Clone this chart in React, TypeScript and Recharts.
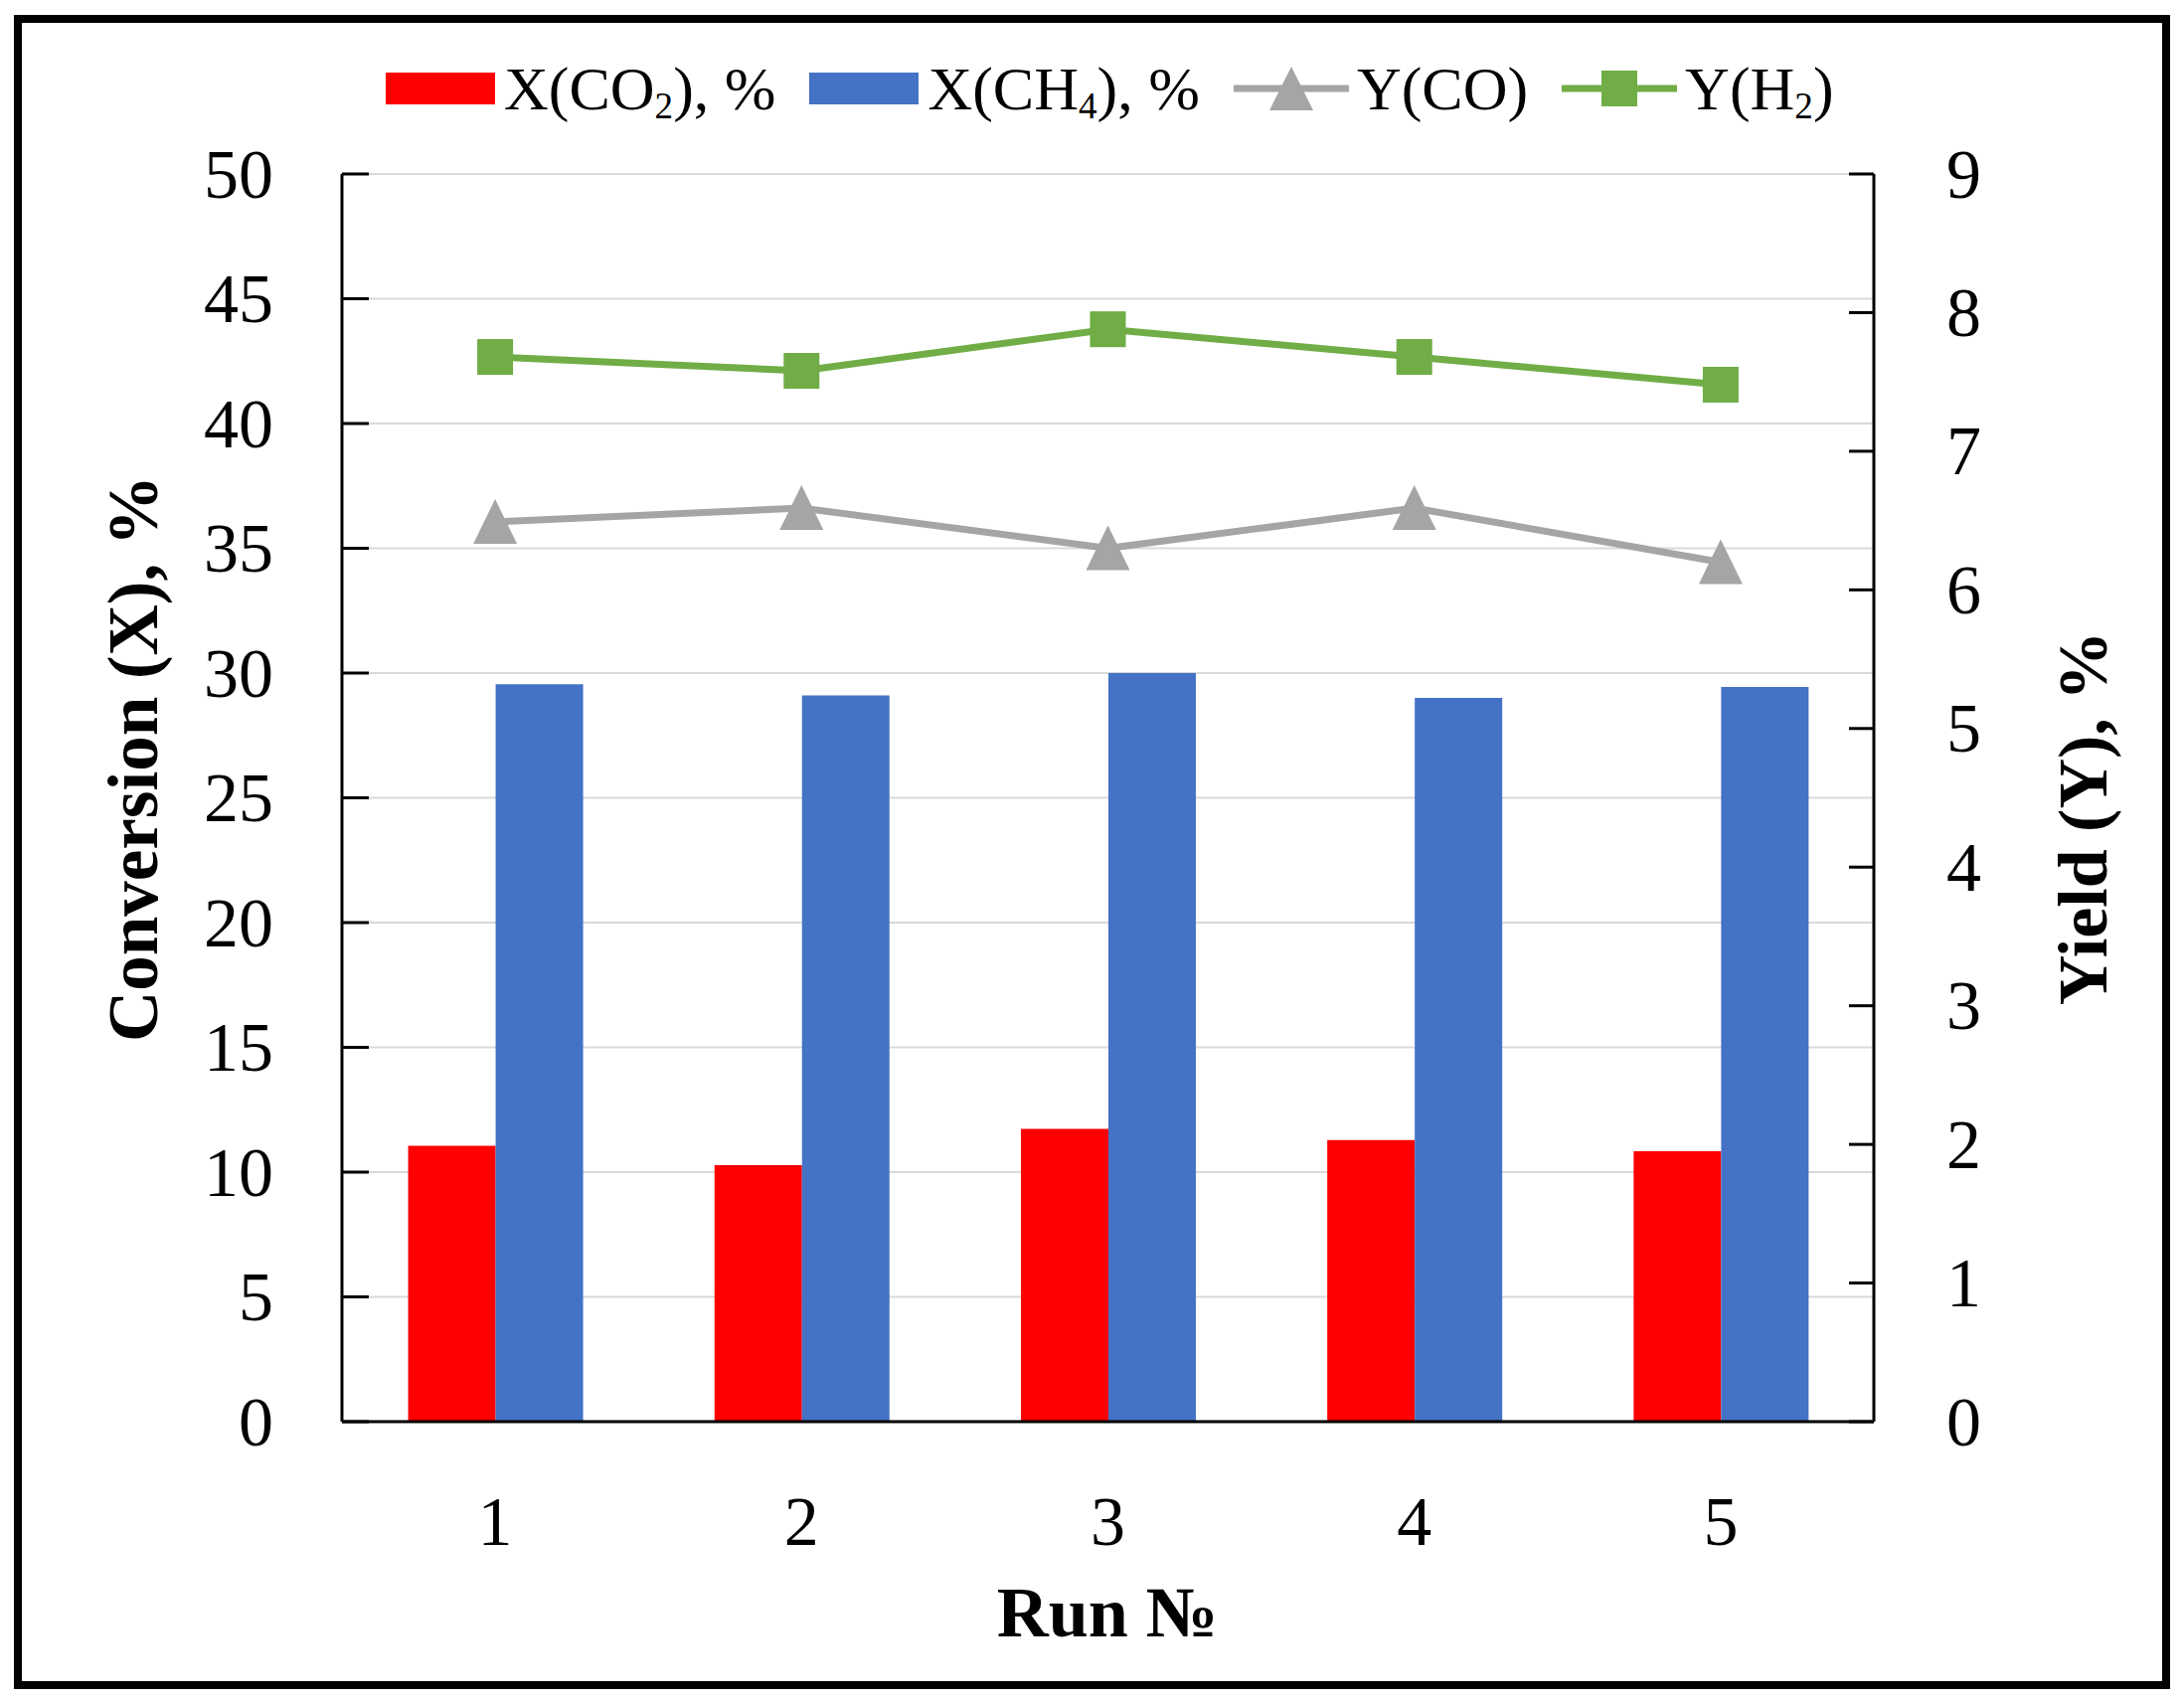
import { ComposedChart, Bar, Line, XAxis, YAxis, CartesianGrid, Label } from "recharts";

const runs = ["1", "2", "3", "4", "5"];
const xCO2 = [11.06, 10.28, 11.73, 11.28, 10.84];
const xCH4 = [29.55, 29.1, 30.0, 29.0, 29.44];
const yCO = [6.49, 6.59, 6.3, 6.59, 6.2];
const yH2 = [7.68, 7.58, 7.88, 7.68, 7.48];
const leftTicks = [0, 5, 10, 15, 20, 25, 30, 35, 40, 45, 50];
const rightTicks = [0, 1, 2, 3, 4, 5, 6, 7, 8, 9];

const data = runs.map((run, i) => ({
  run,
  xCO2: xCO2[i],
  xCH4: xCH4[i],
  yCO: yCO[i],
  yH2: yH2[i],
}));

const FONT = "'Liberation Serif', 'Times New Roman', serif";
const RED = "#FF0000";
const BLUE = "#4472C4";
const GRAY = "#A5A5A5";
const GREEN = "#70AD47";

const LeftTick = ({ x, y, payload }: any) => (
  <g>
    <line x1={x + 69} x2={x + 96} y1={y} y2={y} stroke="#000" strokeWidth={3} />
    <text x={x} y={y} textAnchor="end" dominantBaseline="central" fontFamily={FONT} fontSize={70} fill="#000">
      {payload.value}
    </text>
  </g>
);

const RightTick = ({ x, y, payload }: any) => (
  <g>
    <line x1={x - 73} x2={x - 98} y1={y} y2={y} stroke="#000" strokeWidth={3} />
    <text x={x} y={y} textAnchor="start" dominantBaseline="central" fontFamily={FONT} fontSize={70} fill="#000">
      {payload.value}
    </text>
  </g>
);

const BottomTick = ({ x, y, payload }: any) => (
  <text x={x} y={y + 100} textAnchor="middle" dominantBaseline="central" fontFamily={FONT} fontSize={70} fill="#000">
    {payload.value}
  </text>
);

const Triangle = (props: any) => {
  const { cx, cy, index } = props;
  return (
    <path
      key={`tri-${index}`}
      d={`M${cx},${cy - 23} L${cx + 22},${cy + 22} L${cx - 22},${cy + 22} Z`}
      fill={GRAY}
    />
  );
};

const Square = (props: any) => {
  const { cx, cy, index } = props;
  return <rect key={`sq-${index}`} x={cx - 18} y={cy - 18} width={36} height={36} fill={GREEN} />;
};

const legendText: React.CSSProperties = { fontFamily: FONT, fontSize: 62, color: "#000", whiteSpace: "nowrap" };
const subStyle: React.CSSProperties = { fontSize: "60%", verticalAlign: "-0.25em", lineHeight: 0, color: "#000" };

const LineIcon = ({ color, marker }: { color: string; marker: "tri" | "sq" }) => (
  <svg width={116} height={46} style={{ marginRight: 8 }}>
    <line x1={0} x2={116} y1={23} y2={23} stroke={color} strokeWidth={7} />
    {marker === "tri" ? (
      <path d="M58,1 L80,45 L36,45 Z" fill={color} />
    ) : (
      <rect x={40} y={5} width={36} height={36} fill={color} />
    )}
  </svg>
);

const ChartLegend = () => (
  <div
    style={{
      position: "absolute",
      left: 388,
      top: 54,
      height: 70,
      display: "flex",
      alignItems: "center",
      gap: 34,
    }}
  >
    <div style={{ display: "flex", alignItems: "center" }}>
      <div style={{ width: 110, height: 32, background: RED, marginRight: 9 }} />
      <span style={legendText}>
        X(CO<sub style={subStyle}>2</sub>), %
      </span>
    </div>
    <div style={{ display: "flex", alignItems: "center" }}>
      <div style={{ width: 110, height: 32, background: BLUE, marginRight: 9 }} />
      <span style={legendText}>
        X(CH<sub style={subStyle}>4</sub>), %
      </span>
    </div>
    <div style={{ display: "flex", alignItems: "center" }}>
      <LineIcon color={GRAY} marker="tri" />
      <span style={legendText}>Y(CO)</span>
    </div>
    <div style={{ display: "flex", alignItems: "center" }}>
      <LineIcon color={GREEN} marker="sq" />
      <span style={legendText}>
        Y(H<sub style={subStyle}>2</sub>)
      </span>
    </div>
  </div>
);

export default function App() {
  return (
    <div style={{ position: "absolute", left: 0, top: 0, width: 2197, height: 1713, background: "#fff" }}>
      <div
        style={{
          position: "absolute",
          left: 14,
          top: 15,
          width: 2169,
          height: 1684,
          border: "8px solid #000",
          boxSizing: "border-box",
        }}
      />
      <div style={{ position: "absolute", left: 0, top: 0 }}>
        <ComposedChart
          width={2197}
          height={1713}
          data={data}
          margin={{ top: 175, right: 0, bottom: 0, left: 0 }}
          barCategoryGap="21.6%"
          barGap={0}
        >
          <CartesianGrid yAxisId="left" vertical={false} stroke="#d9d9d9" strokeWidth={2} />
          <XAxis
            dataKey="run"
            height={283}
            axisLine={{ stroke: "#000", strokeWidth: 3 }}
            tickLine={false}
            tickSize={0}
            tickMargin={0}
            tick={<BottomTick />}
          >
            <Label
              content={() => (
                <text x={1114} y={1622} textAnchor="middle" dominantBaseline="central" fontFamily={FONT} fontSize={72} fontWeight="bold" fill="#000">
                  Run №
                </text>
              )}
            />
          </XAxis>
          <YAxis
            yAxisId="left"
            orientation="left"
            width={344}
            domain={[0, 50]}
            ticks={leftTicks}
            interval={0}
            axisLine={{ stroke: "#000", strokeWidth: 3 }}
            tickLine={false}
            tickSize={0}
            tickMargin={69}
            tick={<LeftTick />}
          >
            <Label
              content={() => (
                <text
                  x={134}
                  y={763}
                  transform="rotate(-90 134 763)"
                  textAnchor="middle"
                  dominantBaseline="central"
                  fontFamily={FONT}
                  fontSize={71}
                  fontWeight="bold"
                  fill="#000"
                >
                  Conversion (X), %
                </text>
              )}
            />
          </YAxis>
          <YAxis
            yAxisId="right"
            orientation="right"
            width={312}
            domain={[0, 9]}
            ticks={rightTicks}
            interval={0}
            axisLine={{ stroke: "#000", strokeWidth: 3 }}
            tickLine={false}
            tickSize={0}
            tickMargin={73}
            tick={<RightTick />}
          >
            <Label
              content={() => (
                <text
                  x={2095}
                  y={823}
                  transform="rotate(-90 2095 823)"
                  textAnchor="middle"
                  dominantBaseline="central"
                  fontFamily={FONT}
                  fontSize={70}
                  fontWeight="bold"
                  fill="#000"
                >
                  Yield (Y), %
                </text>
              )}
            />
          </YAxis>
          <Bar yAxisId="left" dataKey="xCO2" fill={RED} isAnimationActive={false} />
          <Bar yAxisId="left" dataKey="xCH4" fill={BLUE} isAnimationActive={false} />
          <Line
            yAxisId="right"
            type="linear"
            dataKey="yCO"
            stroke={GRAY}
            strokeWidth={7}
            dot={<Triangle />}
            activeDot={false}
            isAnimationActive={false}
          />
          <Line
            yAxisId="right"
            type="linear"
            dataKey="yH2"
            stroke={GREEN}
            strokeWidth={7}
            dot={<Square />}
            activeDot={false}
            isAnimationActive={false}
          />
        </ComposedChart>
      </div>
      <ChartLegend />
    </div>
  );
}
